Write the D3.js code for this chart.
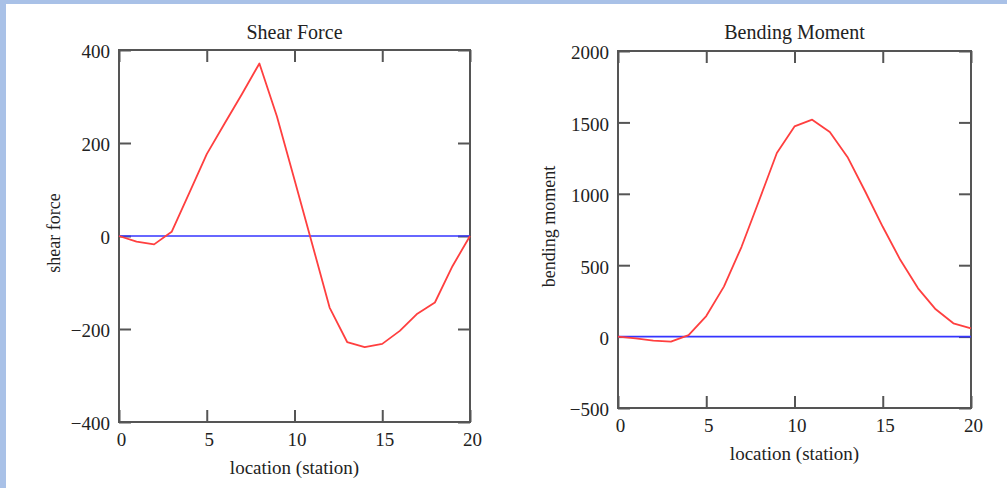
<!DOCTYPE html>
<html>
  <head>
    <meta charset="utf-8">
    <title>Shear Force and Bending Moment</title>
    <script src="https://cdn.jsdelivr.net/npm/d3@7"></script>
    <style>
      body { margin: 0; background: #fff; }
      text { font-family: "Liberation Serif", "DejaVu Serif", serif; fill: #222; }
    </style>
  </head>
  <body>
    <svg width="1007" height="488" id="mainsvg"></svg>
    <script>
      // data
      const stations = d3.range(0, 21);
      const shear = [0, -12, -18, 9, 92, 176, 241, 305, 371, 257, 121, -16, -154, -228, -239, -232, -204, -167, -143, -65, 0];
      const moment = [0, -12, -28, -35, 10, 144, 350, 629, 955, 1286, 1472, 1519, 1433, 1258, 1018, 769, 536, 338, 191, 93, 58];
      const xTicks = [0, 5, 10, 15, 20];
      const shearTicks = [-400, -200, 0, 200, 400];
      const momentTicks = [-500, 0, 500, 1000, 1500, 2000];

      const svg = d3.select('#mainsvg');
      const width = +svg.attr('width');
      const height = +svg.attr('height');

      // light blue frame of the slide
      svg.append('rect').attr('width', width).attr('height', height).attr('fill', '#a9c1e7');
      svg.append('rect').attr('x', 6).attr('y', 4).attr('width', width - 6).attr('height', height - 4).attr('fill', '#fff');

      const panels = [
        {title: 'Shear Force', ylab: 'shear force', values: shear, yTicks: shearTicks,
         left: 119, right: 470, top: 50, bottom: 422, ylabX: 60},
        {title: 'Bending Moment', ylab: 'bending moment', values: moment, yTicks: momentTicks,
         left: 618, right: 971, top: 51, bottom: 408, ylabX: 555}
      ];
      const fmt = d3.format('d');

      const drawPanel = function(p) {
        const x = d3.scaleLinear().domain([0, 20]).range([p.left, p.right]);
        const y = d3.scaleLinear().domain(d3.extent(p.yTicks)).range([p.bottom, p.top]);
        const g = svg.append('g');
        const tk = 12;

        // axes: inward ticks on every side, labels on left and bottom
        const ax = [
          [d3.axisBottom(x).tickValues(xTicks).tickFormat(fmt).tickSizeInner(-tk).tickSizeOuter(0).tickPadding(10.5), `translate(0,${p.bottom})`],
          [d3.axisTop(x).tickValues(xTicks).tickSizeInner(-tk).tickSizeOuter(0).tickFormat(''), `translate(0,${p.top})`],
          [d3.axisLeft(y).tickValues(p.yTicks).tickFormat(fmt).tickSizeInner(-tk).tickSizeOuter(0).tickPadding(9), `translate(${p.left},0)`],
          [d3.axisRight(y).tickValues(p.yTicks).tickSizeInner(-tk).tickSizeOuter(0).tickFormat(''), `translate(${p.right},0)`]
        ];
        ax.forEach(([a, tr]) => {
          const ag = g.append('g').attr('transform', tr).call(a);
          ag.select('.domain').remove();
          ag.selectAll('line').attr('stroke', '#555').attr('stroke-width', 2);
          ag.selectAll('text').attr('font-size', 19).attr('fill', '#222');
          ag.attr('font-family', null);
        });
        g.selectAll('g.tick text').filter(function() { return this.getAttribute('dy') === '0.32em'; }).attr('dy', '0.42em');
        g.selectAll('g.tick text').filter(function() { return this.getAttribute('dy') === '0.71em'; }).attr('dx', 2);

        g.append('rect')
          .attr('x', p.left).attr('y', p.top)
          .attr('width', p.right - p.left).attr('height', p.bottom - p.top)
          .attr('fill', 'none').attr('stroke', '#555').attr('stroke-width', 2);

        // zero reference
        g.append('path').datum([0, 20])
          .attr('fill', 'none').attr('stroke', '#3535ff').attr('stroke-width', 1.6)
          .attr('d', d3.line().x(d => x(d)).y(() => y(0)));

        g.append('path').datum(p.values)
          .attr('fill', 'none').attr('stroke', '#ff3f3f').attr('stroke-width', 1.8)
          .attr('stroke-linejoin', 'round')
          .attr('d', d3.line().x((d, i) => x(stations[i])).y(d => y(d)));

        g.append('text').attr('x', (p.left + p.right) / 2).attr('y', 39)
          .attr('text-anchor', 'middle').attr('font-size', 20).text(p.title);
        g.append('text').attr('x', (p.left + p.right) / 2).attr('y', p.bottom + 52)
          .attr('text-anchor', 'middle').attr('font-size', 19).text('location (station)');
        g.append('text')
          .attr('transform', `translate(${p.ylabX},${(p.top + p.bottom) / 2 - 3}) rotate(-90)`)
          .attr('text-anchor', 'middle').attr('font-size', 18).text(p.ylab);
      };

      panels.forEach(drawPanel);
    </script>
  </body>
</html>
